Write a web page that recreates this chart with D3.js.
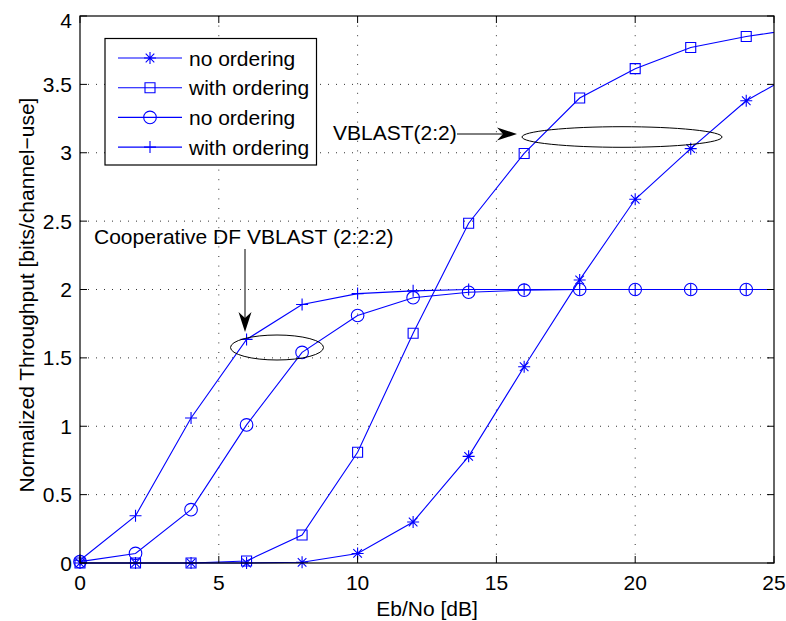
<!DOCTYPE html>
<html>
<head>
<meta charset="utf-8">
<script src="https://cdn.jsdelivr.net/npm/d3@7"></script>
<style>
  body { margin: 0; background: #fff; }
  text { font-family: "Liberation Sans", Arial, Helvetica, sans-serif; }
</style>
</head>
<body>
<script>
// ---------------- data ----------------
// x = Eb/No [dB]; last point (26) lies outside the axes and is clipped
var ebno = [0, 2, 4, 6, 8, 10, 12, 14, 16, 18, 20, 22, 24, 26];
var vblastNoOrd   = [0, 0, 0, 0, 0.005, 0.07, 0.30, 0.78, 1.435, 2.07, 2.66, 3.03, 3.38, 3.61];
var vblastOrd     = [0, 0, 0, 0.015, 0.205, 0.81, 1.68, 2.485, 2.995, 3.40, 3.615, 3.77, 3.85, 3.91];
var coopNoOrd     = [0.01, 0.07, 0.39, 1.01, 1.54, 1.81, 1.94, 1.98, 1.995, 2, 2, 2, 2, 2];
var coopOrd       = [0.02, 0.345, 1.06, 1.635, 1.89, 1.97, 1.99, 2, 2, 2, 2, 2, 2, 2];
var legendLabels  = ["no ordering", "with ordering", "no ordering", "with ordering"];
var markerTypes   = ["star", "square", "circle", "plus"];
var xTicks = [0, 5, 10, 15, 20, 25];
var yTicks = [0, 0.5, 1, 1.5, 2, 2.5, 3, 3.5, 4];

var seriesList = [vblastNoOrd, vblastOrd, coopNoOrd, coopOrd].map(function(vals, i) {
	return { label: legendLabels[i], marker: markerTypes[i],
		points: vals.map(function(v, j) { return { x: ebno[j], y: v }; }) };
});

// ---------------- layout ----------------
var W = 786, H = 621;
var plotL = 80, plotR = 774, plotT = 16, plotB = 563;
var blue = "#0000ff";
var fs = 21;

var svg = d3.select("body").append("svg")
	.attr("width", W).attr("height", H);

var x = d3.scaleLinear().domain([0, 25]).range([plotL, plotR]);
var y = d3.scaleLinear().domain([0, 4]).range([plotB, plotT]);

var defs = svg.append("defs");
defs.append("clipPath").attr("id", "plotClip")
	.append("rect").attr("x", plotL).attr("y", plotT - 8)
	.attr("width", plotR - plotL).attr("height", plotB - plotT + 16);
defs.append("clipPath").attr("id", "plotClipX")
	.append("rect").attr("x", plotL - 10).attr("y", plotT - 8)
	.attr("width", plotR - plotL + 10).attr("height", plotB - plotT + 20);

// grid (dotted)
var grid = svg.append("g");
xTicks.slice(1, -1).forEach(function(t) {
	grid.append("line").attr("x1", x(t)).attr("x2", x(t)).attr("y1", plotT).attr("y2", plotB)
		.attr("stroke", "#333").attr("stroke-width", 1).attr("stroke-dasharray", "1,8.6");
});
yTicks.slice(1, -1).forEach(function(t) {
	grid.append("line").attr("x1", plotL).attr("x2", plotR).attr("y1", y(t)).attr("y2", y(t))
		.attr("stroke", "#333").attr("stroke-width", 1).attr("stroke-dasharray", "1,7");
});

// marker symbol path
function markerPath(type) {
	if (type === "square") return "M-5,-5H5V5H-5Z";
	if (type === "circle") return d3.symbol().type(d3.symbolCircle).size(Math.PI * 6.3 * 6.3)();
	if (type === "plus") return "M-6,0H6M0,-6V6";
	// asterisk
	return "M-6,0H6M0,-6V6M-4.3,-4.3L4.3,4.3M-4.3,4.3L4.3,-4.3";
}

var line = d3.line().x(function(d) { return x(d.x); }).y(function(d) { return y(d.y); });

var plot = svg.append("g").attr("clip-path", "url(#plotClip)");
seriesList.forEach(function(s) {
	plot.append("path").datum(s.points).attr("d", line)
		.attr("fill", "none").attr("stroke", blue).attr("stroke-width", 1.1);
});
var marks = svg.append("g").attr("clip-path", "url(#plotClipX)");
seriesList.forEach(function(s) {
	marks.selectAll(null).data(s.points.filter(function(d) { return d.x <= 25; }))
		.enter().append("path")
		.attr("transform", function(d) { return "translate(" + x(d.x) + "," + y(d.y) + ")"; })
		.attr("d", markerPath(s.marker))
		.attr("fill", "none").attr("stroke", blue).attr("stroke-width", 1.1);
});

// axes box with inward ticks on all sides
var tickLen = 7;
var axes = svg.append("g");
axes.append("rect").attr("x", plotL).attr("y", plotT).attr("width", plotR - plotL).attr("height", plotB - plotT)
	.attr("fill", "none").attr("stroke", "#000").attr("stroke-width", 1.2);
xTicks.forEach(function(t) {
	axes.append("line").attr("x1", x(t)).attr("x2", x(t)).attr("y1", plotB).attr("y2", plotB - tickLen).attr("stroke", "#000");
	axes.append("line").attr("x1", x(t)).attr("x2", x(t)).attr("y1", plotT).attr("y2", plotT + tickLen).attr("stroke", "#000");
	axes.append("text").attr("x", x(t)).attr("y", 590).attr("text-anchor", "middle")
		.attr("font-size", fs).text(t);
});
yTicks.forEach(function(t) {
	axes.append("line").attr("x1", plotL).attr("x2", plotL + tickLen).attr("y1", y(t)).attr("y2", y(t)).attr("stroke", "#000");
	axes.append("line").attr("x1", plotR).attr("x2", plotR - tickLen).attr("y1", y(t)).attr("y2", y(t)).attr("stroke", "#000");
	axes.append("text").attr("x", 72).attr("y", (t === 4 ? y(t) + 4 : y(t)) + 7.5).attr("text-anchor", "end")
		.attr("font-size", fs).text(t);
});

// axis labels
svg.append("text").attr("x", 427).attr("y", 616).attr("text-anchor", "middle")
	.attr("font-size", fs).text("Eb/No [dB]");
svg.append("text").attr("transform", "translate(34,295) rotate(-90)").attr("text-anchor", "middle")
	.attr("font-size", fs).text("Normalized Throughput [bits/channel\u2212use]");

// legend
var lg = svg.append("g");
lg.append("rect").attr("x", 105).attr("y", 38.5).attr("width", 211.5).attr("height", 126.5)
	.attr("fill", "#fff").attr("stroke", "#000").attr("stroke-width", 1.2);
seriesList.forEach(function(s, i) {
	var ly = 58 + i * 29.7;
	lg.append("line").attr("x1", 118).attr("x2", 182).attr("y1", ly).attr("y2", ly)
		.attr("stroke", blue).attr("stroke-width", 1.1);
	lg.append("path").attr("transform", "translate(150," + ly + ")").attr("d", markerPath(s.marker))
		.attr("fill", "none").attr("stroke", blue).attr("stroke-width", 1.1);
	lg.append("text").attr("x", 189).attr("y", ly + 7.5).attr("font-size", fs).text(s.label);
});

// annotations
function arrowHead(tipX, tipY, angle) {
	// filled arrow head with notched back, pointing along angle (radians)
	var L = 20, hw = 6.5, notch = 14;
	var pts = [[0, 0], [-L, -hw], [-notch, 0], [-L, hw]].map(function(p) {
		return [tipX + p[0] * Math.cos(angle) - p[1] * Math.sin(angle),
			tipY + p[0] * Math.sin(angle) + p[1] * Math.cos(angle)];
	});
	return "M" + pts.map(function(p) { return p.join(","); }).join("L") + "Z";
}
var ann = svg.append("g");
ann.append("text").attr("x", 333).attr("y", 140).attr("font-size", fs).text("VBLAST(2:2)");
ann.append("line").attr("x1", 457).attr("x2", 505).attr("y1", 134).attr("y2", 134).attr("stroke", "#000");
ann.append("path").attr("d", arrowHead(517, 134, 0)).attr("fill", "#000");
ann.append("ellipse").attr("cx", 622).attr("cy", 137).attr("rx", 100).attr("ry", 10.3)
	.attr("fill", "none").attr("stroke", "#000").attr("stroke-width", 1);

ann.append("text").attr("x", 94).attr("y", 244).attr("font-size", fs).text("Cooperative DF VBLAST (2:2:2)");
ann.append("line").attr("x1", 245).attr("x2", 245).attr("y1", 249).attr("y2", 320).attr("stroke", "#000");
ann.append("path").attr("d", arrowHead(245, 332, Math.PI / 2)).attr("fill", "#000");
ann.append("ellipse").attr("cx", 277).attr("cy", 347.5).attr("rx", 46.5).attr("ry", 12.5)
	.attr("fill", "none").attr("stroke", "#000").attr("stroke-width", 1);
</script>
</body>
</html>
